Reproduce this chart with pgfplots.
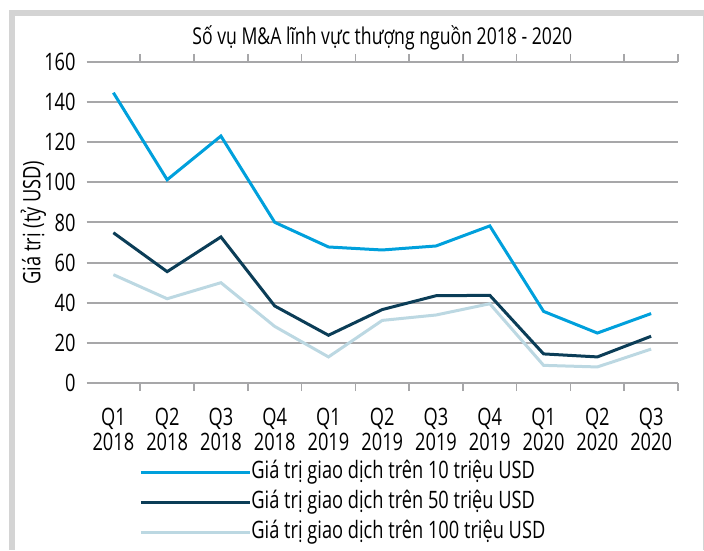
\documentclass[border=0pt]{standalone}
\usepackage{pgfplots}
\pgfplotsset{compat=1.18}
\usepackage{fontspec}
\setmainfont{Open Sans}[FakeStretch=0.76]
\definecolor{sOne}{HTML}{00A0DC}
\definecolor{sTwo}{HTML}{0B3D57}
\definecolor{sThree}{HTML}{BCD8E2}
\definecolor{gridgray}{HTML}{A7A7A9}
\definecolor{framegray}{HTML}{D4D4D4}
\newcommand{\cf}{\fontsize{12}{12.5}\selectfont}
\begin{document}
\begin{tikzpicture}
\useasboundingbox (-43.25pt,-83.5pt) rectangle (308.75pt,191.5pt);
% frame
\fill[framegray] (-38.75pt,-83.5pt) rectangle (-35.75pt,186.5pt);
\fill[framegray] (-38.75pt,183.5pt) rectangle (308.75pt,186.5pt);
\fill[framegray] (308.0pt,-83.5pt) rectangle (308.6pt,186.5pt);
\begin{axis}[
  at={(0,0)}, anchor=south west,
  scale only axis, width=295.75pt, height=160.5pt,
  xmin=-0.5, xmax=10.5, ymin=0, ymax=160,
  /pgf/number format/assume math mode=true,
  font=\cf,
  axis line style={draw=none},
  ytick={0,20,...,160},
  ymajorgrids,
  grid style={gridgray, line width=1pt},
  ytick style={draw=none},
  yticklabel style={font=\cf, inner sep=0pt, anchor=east, xshift=-1pt},
  xtick={0,...,10},
  xticklabels={{Q1\\2018},{Q2\\2018},{Q3\\2018},{Q4\\2018},{Q1\\2019},{Q2\\2019},{Q3\\2019},{Q4\\2019},{Q1\\2020},{Q2\\2020},{Q3\\2020}},
  xticklabel style={font=\cf, align=center, inner sep=0pt, anchor=north, yshift=-8pt},
  major x tick style={draw=none},
  minor xtick={0.5,1.5,...,10.5},
  tick align=outside,
  minor tick length=4pt,
  minor x tick style={gridgray, line width=0.8pt},
  ylabel={Giá trị (tỷ USD)},
  ylabel style={font=\cf, at={(axis description cs:0,0.5)}, anchor=south, inner sep=0pt, yshift=20pt},
  title={Số vụ M\&A lĩnh vực thượng nguồn 2018 - 2020},
  title style={font=\fontsize{11.6}{12}\selectfont, at={(0.5,1)}, anchor=base, inner sep=0pt, yshift=2.5pt},
  legend cell align=left,
  legend style={font=\cf, at={(0.0888,-0.240)}, anchor=north west, draw=none, fill=none,
    inner sep=0pt, row sep=3pt,
    nodes={inner sep=0pt, text height=9pt, text depth=3pt}},
  legend image code/.code={\draw[#1] (0pt,0pt) -- (54.5pt,0pt);},
  every axis plot/.append style={line width=1.5pt},
]
\addplot[sOne] coordinates {(0,144.7) (1,101.3) (2,123.1) (3,80.1) (4,67.8) (5,66.3) (6,68.3) (7,78.3) (8,35.7) (9,24.9) (10,34.6)};
\addlegendentry{Giá trị giao dịch trên 10 triệu USD}
\addplot[sTwo] coordinates {(0,74.9) (1,55.5) (2,72.8) (3,38.4) (4,23.8) (5,36.6) (6,43.5) (7,43.7) (8,14.5) (9,13.0) (10,23.3)};
\addlegendentry{Giá trị giao dịch trên 50 triệu USD}
\addplot[sThree] coordinates {(0,54.0) (1,42.0) (2,50.0) (3,28.2) (4,13.0) (5,31.2) (6,33.9) (7,39.5) (8,8.8) (9,8.0) (10,16.9)};
\addlegendentry{Giá trị giao dịch trên 100 triệu USD}
\end{axis}
\end{tikzpicture}
\end{document}
